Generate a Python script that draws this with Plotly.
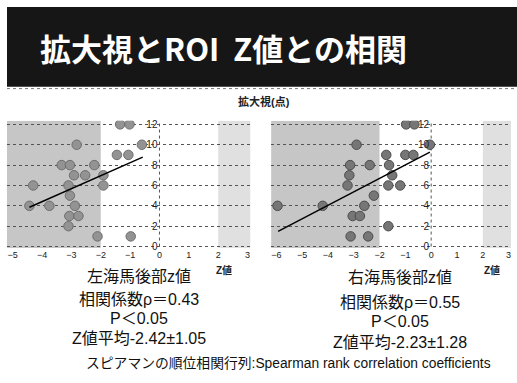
import plotly.graph_objects as go

W, H = 517, 383

# --- data -------------------------------------------------------------
left_z = [-1.34, -1.02, -2.82, -0.60, -1.45, -1.06, -3.33, -3.05, -2.22,
          -2.91, -2.53, -1.91, -4.30, -3.10, -1.91, -3.05, -4.43, -3.75,
          -2.88, -3.07, -2.76, -3.10, -2.11, -0.98]
left_score = [12, 12, 10, 10, 9, 9, 8, 8, 8, 7, 7, 7, 6, 6, 6, 5, 4, 4, 4,
              3, 3, 2, 1, 1]
left_fit_x = [-4.43, -0.57]
left_fit_y = [3.86, 8.78]

right_z = [-0.97, -0.65, -2.89, -0.05, -1.74, -1.00, -0.69, -3.14, -2.38,
           -1.63, -3.17, -1.51, -3.24, -1.66, -1.20, -2.22, -5.95, -4.20,
           -2.59, -3.04, -2.76, -1.66, -3.12, -2.44]
right_score = [12, 12, 10, 10, 9, 9, 9, 8, 8, 8, 7, 7, 6, 6, 6, 5, 4, 4, 4,
               3, 3, 2, 1, 1]
right_fit_x = [-5.93, -0.05]
right_fit_y = [1.49, 9.27]

y_ticks = [0, 2, 4, 6, 8, 10, 12]
left_x_ticks = [-5, -4, -3, -2, -1, 0, 1, 2, 3]
right_x_ticks = [-6, -5, -4, -3, -2, -1, 0, 1, 2, 3]

left_stats = ["左海馬後部z値", "相関係数ρ＝0.43", "P＜0.05", "Z値平均-2.42±1.05"]
right_stats = ["右海馬後部z値", "相関係数ρ＝0.55", "P＜0.05", "Z値平均-2.23±1.28"]

title_text = "拡大視とROI  Z値との相関"
y_title = "拡大視(点)"
x_unit = "Z値"
footnote = "スピアマンの順位相関行列:Spearman rank correlation coefficients"

# --- layout helpers ---------------------------------------------------
def px_x(p):
    return p / W


def px_y(p):
    return 1 - p / H


FONT = "Liberation Sans, Arial, Noto Sans CJK JP"
JP = "Liberation Sans, Noto Sans CJK JP"

left_range = [-5.2, 3.1]
right_range = [-6.2, 3.1]
y_range = [-0.15, 12.35]
left_dom = [px_x(6.8), px_x(250.5)]
right_dom = [px_x(271.1), px_x(511.2)]
y_dom = [px_y(250), px_y(120.7)]


def zero_pos(dom, rng):
    return dom[0] + (0 - rng[0]) / (rng[1] - rng[0]) * (dom[1] - dom[0])


fig = go.Figure()

panels = [
    (left_z, left_score, left_fit_x, left_fit_y, "x", "y", "#939393", "#6e6e6e"),
    (right_z, right_score, right_fit_x, right_fit_y, "x2", "y2", "#767676", "#4c4c4c"),
]
for zx, sc, fx, fy, xa, ya, col, edge in panels:
    fig.add_trace(go.Scatter(
        x=zx, y=sc, mode="markers", xaxis=xa, yaxis=ya,
        marker=dict(size=9.5, color=col, line=dict(color=edge, width=1)),
        showlegend=False, hoverinfo="x+y"))
    fig.add_trace(go.Scatter(
        x=fx, y=fy, mode="lines", xaxis=xa, yaxis=ya,
        line=dict(color="black", width=1.5),
        showlegend=False, hoverinfo="skip"))

axis_common = dict(showgrid=False, zeroline=False, showline=False,
                   ticks="", tickfont=dict(family=FONT, size=9, color="#222"))
yaxis_common = dict(range=y_range, domain=y_dom, tickvals=y_ticks,
                    showgrid=True, gridcolor="#555555", griddash="dot",
                    gridwidth=1, zeroline=False, showline=False, ticks="",
                    anchor="free", ticklabelstandoff=2,
                    tickfont=dict(family=FONT, size=10, color="#222"))

fig.update_layout(
    width=W, height=H,
    margin=dict(l=0, r=0, t=0, b=0),
    paper_bgcolor="white", plot_bgcolor="white",
    xaxis=dict(domain=left_dom, range=left_range, tickvals=left_x_ticks,
               anchor="y", **axis_common),
    xaxis2=dict(domain=right_dom, range=right_range, tickvals=right_x_ticks,
                anchor="y2", **axis_common),
    yaxis=dict(position=zero_pos(left_dom, left_range), **yaxis_common),
    yaxis2=dict(position=zero_pos(right_dom, right_range), **yaxis_common),
)

shapes = []
# title bar and the dotted rule under it
shapes.append(dict(type="rect", xref="paper", yref="paper",
                   x0=px_x(7), x1=px_x(517), y0=px_y(86), y1=px_y(5),
                   fillcolor="#161616", line=dict(width=0), layer="below"))
shapes.append(dict(type="line", xref="paper", yref="paper",
                   x0=px_x(7), x1=px_x(517), y0=px_y(88), y1=px_y(88),
                   line=dict(color="#777", width=1, dash="dot")))

# shaded z-value bands and the dotted zero line of each panel
for xa, ya, rng in [("x", "y", left_range), ("x2", "y2", right_range)]:
    shapes.append(dict(type="rect", xref=xa, yref=ya, x0=rng[0], x1=-2,
                       y0=y_range[0], y1=y_range[1], fillcolor="#c6c6c6",
                       line=dict(width=0), layer="below"))
    shapes.append(dict(type="rect", xref=xa, yref=ya, x0=2, x1=rng[1],
                       y0=y_range[0], y1=y_range[1], fillcolor="#e0e0e0",
                       line=dict(width=0), layer="below"))
    shapes.append(dict(type="line", xref=xa, yref=ya, x0=0, x1=0,
                       y0=0, y1=y_range[1],
                       line=dict(color="#555", width=1, dash="dot"),
                       layer="below"))
fig.update_layout(shapes=shapes)

ann = []
ann.append(dict(text=title_text, x=px_x(38), y=px_y(46), xref="paper",
                yref="paper", xanchor="left", yanchor="middle",
                showarrow=False,
                font=dict(family="Noto Sans CJK JP", size=31, color="white",
                          weight="bold")))
ann.append(dict(text="<b>" + y_title + "</b>", x=px_x(264), y=px_y(101),
                xref="paper", yref="paper", xanchor="center",
                yanchor="middle", showarrow=False,
                font=dict(family=JP, size=11, color="#222")))
for cx, xu, stats, ys in [(139, 224, left_stats, [279, 302, 322, 342]),
                          (400, 492, right_stats, [280, 305, 325, 346])]:
    ann.append(dict(text="<b>" + x_unit + "</b>", x=px_x(xu), y=px_y(272),
                    xref="paper", yref="paper", xanchor="center",
                    yanchor="middle", showarrow=False,
                    font=dict(family=JP, size=10, color="#222")))
    for s, yy in zip(stats, ys):
        ann.append(dict(text=s, x=px_x(cx), y=px_y(yy), xref="paper",
                        yref="paper", xanchor="center", yanchor="middle",
                        showarrow=False,
                        font=dict(family=JP, size=16, color="#111")))
ann.append(dict(text=footnote, x=px_x(288), y=px_y(367), xref="paper",
                yref="paper", xanchor="center", yanchor="middle",
                showarrow=False, font=dict(family=JP, size=13.8, color="#111")))
fig.update_layout(annotations=ann)

fig.write_html("out.html")
